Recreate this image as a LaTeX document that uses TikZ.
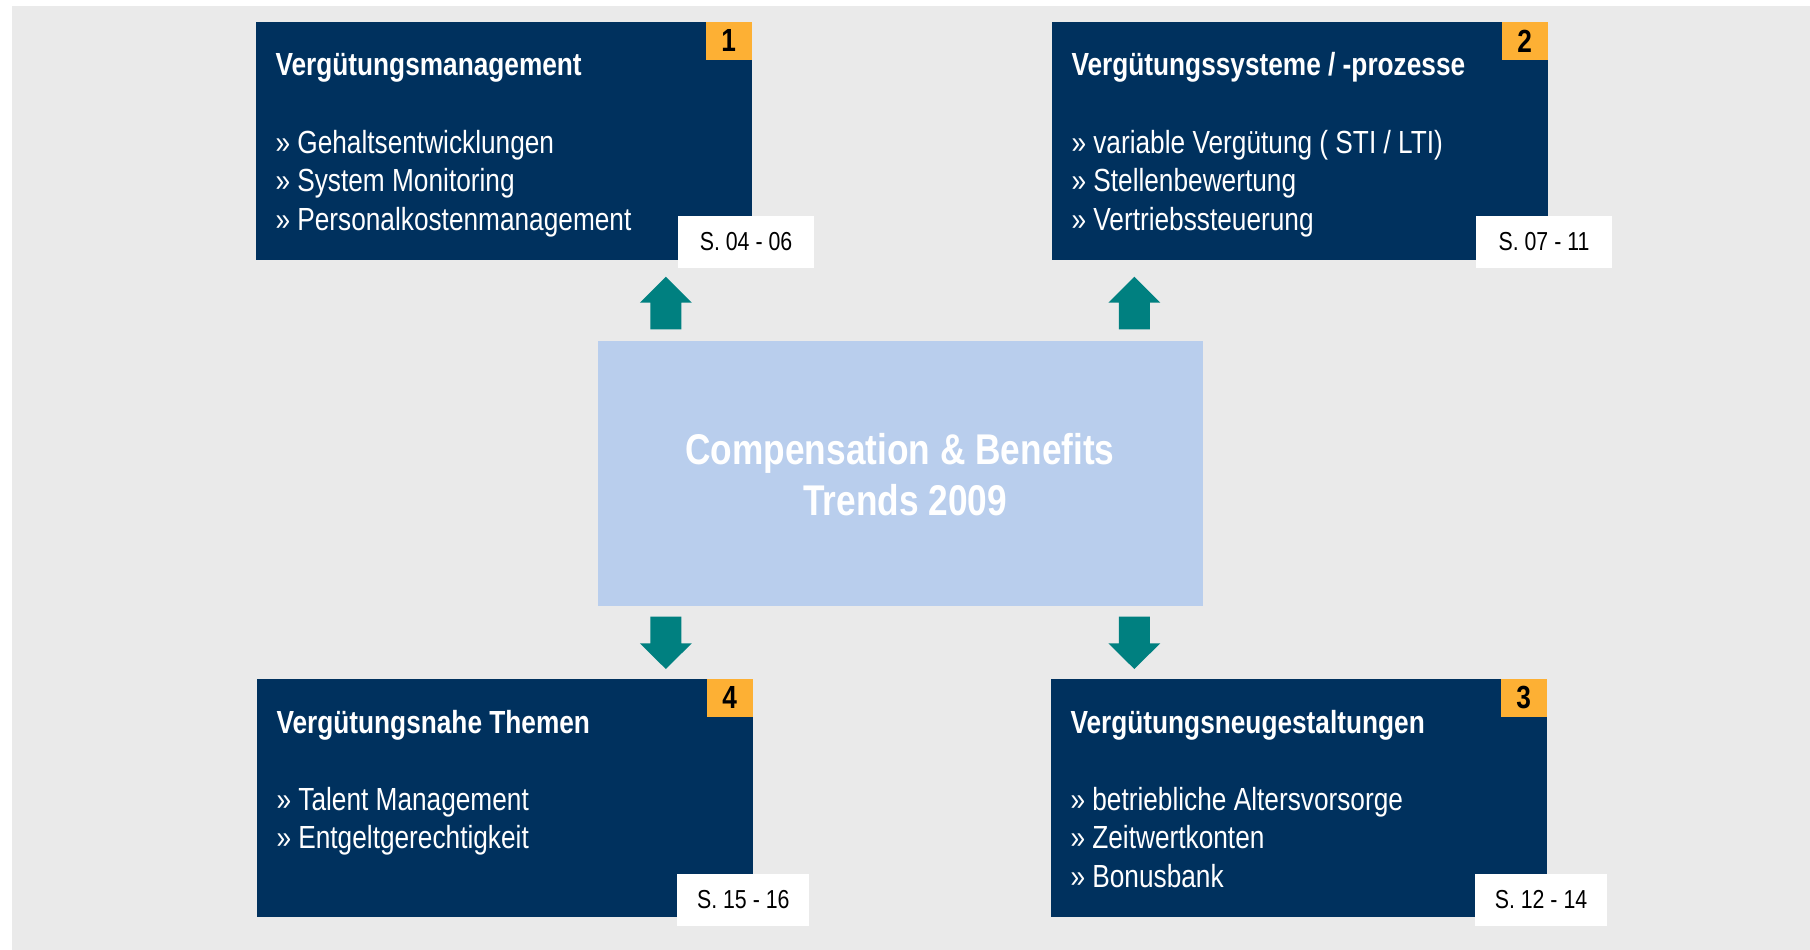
\documentclass[tikz,border=0pt]{standalone}
\usepackage{fontspec}
\setmainfont{Liberation Sans}[FakeStretch=0.82]
\usetikzlibrary{calc}
\definecolor{bggray}{RGB}{234,234,234}
\definecolor{navy}{RGB}{0,49,94}
\definecolor{badgeorange}{RGB}{253,176,52}
\definecolor{arrowteal}{RGB}{0,128,128}
\definecolor{lightblue}{RGB}{185,206,237}
\tikzset{
  panel/.style={fill=navy, draw=none, minimum width=495.5pt, minimum height=237.7pt, anchor=north west, inner sep=0pt, outer sep=0pt},
  badge/.style={fill=badgeorange, draw=none, minimum width=45.5pt, minimum height=37.7pt, anchor=north east, inner sep=0pt, outer sep=0pt, text=black, font=\bfseries\fontsize{32}{38}\selectfont},
  pagebox/.style={fill=white, draw=none, minimum height=51.7pt, anchor=north west, inner sep=0pt, outer sep=0pt, text=black, font=\fontsize{26}{30}\selectfont},
  ptitle/.style={anchor=base west, text=white, inner sep=0pt, font=\bfseries\fontsize{32}{38}\selectfont},
  pitem/.style={anchor=base west, text=white, inner sep=0pt, font=\fontsize{32}{38}\selectfont},
  center text/.style={anchor=base, text=white, inner sep=0pt, font=\bfseries\fontsize{43}{51}\selectfont},
  blockarrow/.style={fill=arrowteal, draw=none}
}
\begin{document}
\begin{tikzpicture}[x=1pt,y=-1pt]
\useasboundingbox (0,0) rectangle (1810,950);
\fill[white] (0,0) rectangle (1810,950);
\fill[bggray] (12,6) rectangle (1810,950);

% central box
\node[fill=lightblue, draw=none, minimum width=605pt, minimum height=264.7pt, anchor=north west, inner sep=0pt] (c) at (598,341) {};
\node[center text] (ct1) at (900,464) {Compensation \& Benefits};
\node[center text] (ct2) at (905,515) {Trends 2009};

% panels
\node[panel] (p1) at (256,22) {};
\node[panel] (p2) at (1052,22) {};
\node[panel] (p4) at (257,679) {};
\node[panel] (p3) at (1051,679) {};

% badges
\node[badge] (b1) at (p1.north east) {1};
\node[badge] (b2) at (p2.north east) {2};
\node[badge] (b4) at (p4.north east) {4};
\node[badge] (b3) at (p3.north east) {3};

% page references
\node[pagebox, minimum width=136.5pt] (s1) at ($(p1.north east)+(-73.7,194)$) {S. 04 - 06};
\node[pagebox, minimum width=136pt] (s2) at ($(p2.north east)+(-71.5,194)$) {S. 07 - 11};
\node[pagebox, minimum width=132pt] (s4) at ($(p4.north east)+(-75.2,195)$) {S. 15 - 16};
\node[pagebox, minimum width=132pt] (s3) at ($(p3.north east)+(-71.5,195)$) {S. 12 - 14};

% panel 1
\node[ptitle] (t1) at ($(p1.north west)+(19.3,54)$) {Vergütungsmanagement};
\node[pitem] (i11) at ($(p1.north west)+(19.3,131.3)$) {» Gehaltsentwicklungen};
\node[pitem] (i12) at ($(p1.north west)+(19.3,169.7)$) {» System Monitoring};
\node[pitem] (i13) at ($(p1.north west)+(19.3,208)$) {» Personalkostenmanagement};

% panel 2
\node[ptitle] (t2) at ($(p2.north west)+(19.3,54)$) {Vergütungssysteme / -prozesse};
\node[pitem] (i21) at ($(p2.north west)+(19.3,131.3)$) {» variable Vergütung ( STI / LTI)};
\node[pitem] (i22) at ($(p2.north west)+(19.3,169.7)$) {» Stellenbewertung};
\node[pitem] (i23) at ($(p2.north west)+(19.3,208)$) {» Vertriebssteuerung};

% panel 4
\node[ptitle] (t4) at ($(p4.north west)+(19.3,54)$) {Vergütungsnahe Themen};
\node[pitem] (i41) at ($(p4.north west)+(19.3,131.3)$) {» Talent Management};
\node[pitem] (i42) at ($(p4.north west)+(19.3,169.7)$) {» Entgeltgerechtigkeit};

% panel 3
\node[ptitle] (t3) at ($(p3.north west)+(19.3,54)$) {Vergütungsneugestaltungen};
\node[pitem] (i31) at ($(p3.north west)+(19.3,131.3)$) {» betriebliche Altersvorsorge};
\node[pitem] (i32) at ($(p3.north west)+(19.3,169.7)$) {» Zeitwertkonten};
\node[pitem] (i33) at ($(p3.north west)+(19.3,208)$) {» Bonusbank};

% block arrows
\foreach \cx in {665.8, 1134.3}{
  \fill[blockarrow] (\cx,276.7) -- (\cx+26,302.7) -- (\cx+15.5,302.7) -- (\cx+15.5,329.3)
    -- (\cx-15.5,329.3) -- (\cx-15.5,302.7) -- (\cx-26,302.7) -- cycle;
}
\foreach \cx in {665.8, 1134.3}{
  \fill[blockarrow] (\cx,669) -- (\cx+26,643.3) -- (\cx+15.5,643.3) -- (\cx+15.5,616.7)
    -- (\cx-15.5,616.7) -- (\cx-15.5,643.3) -- (\cx-26,643.3) -- cycle;
}
\end{tikzpicture}
\end{document}
